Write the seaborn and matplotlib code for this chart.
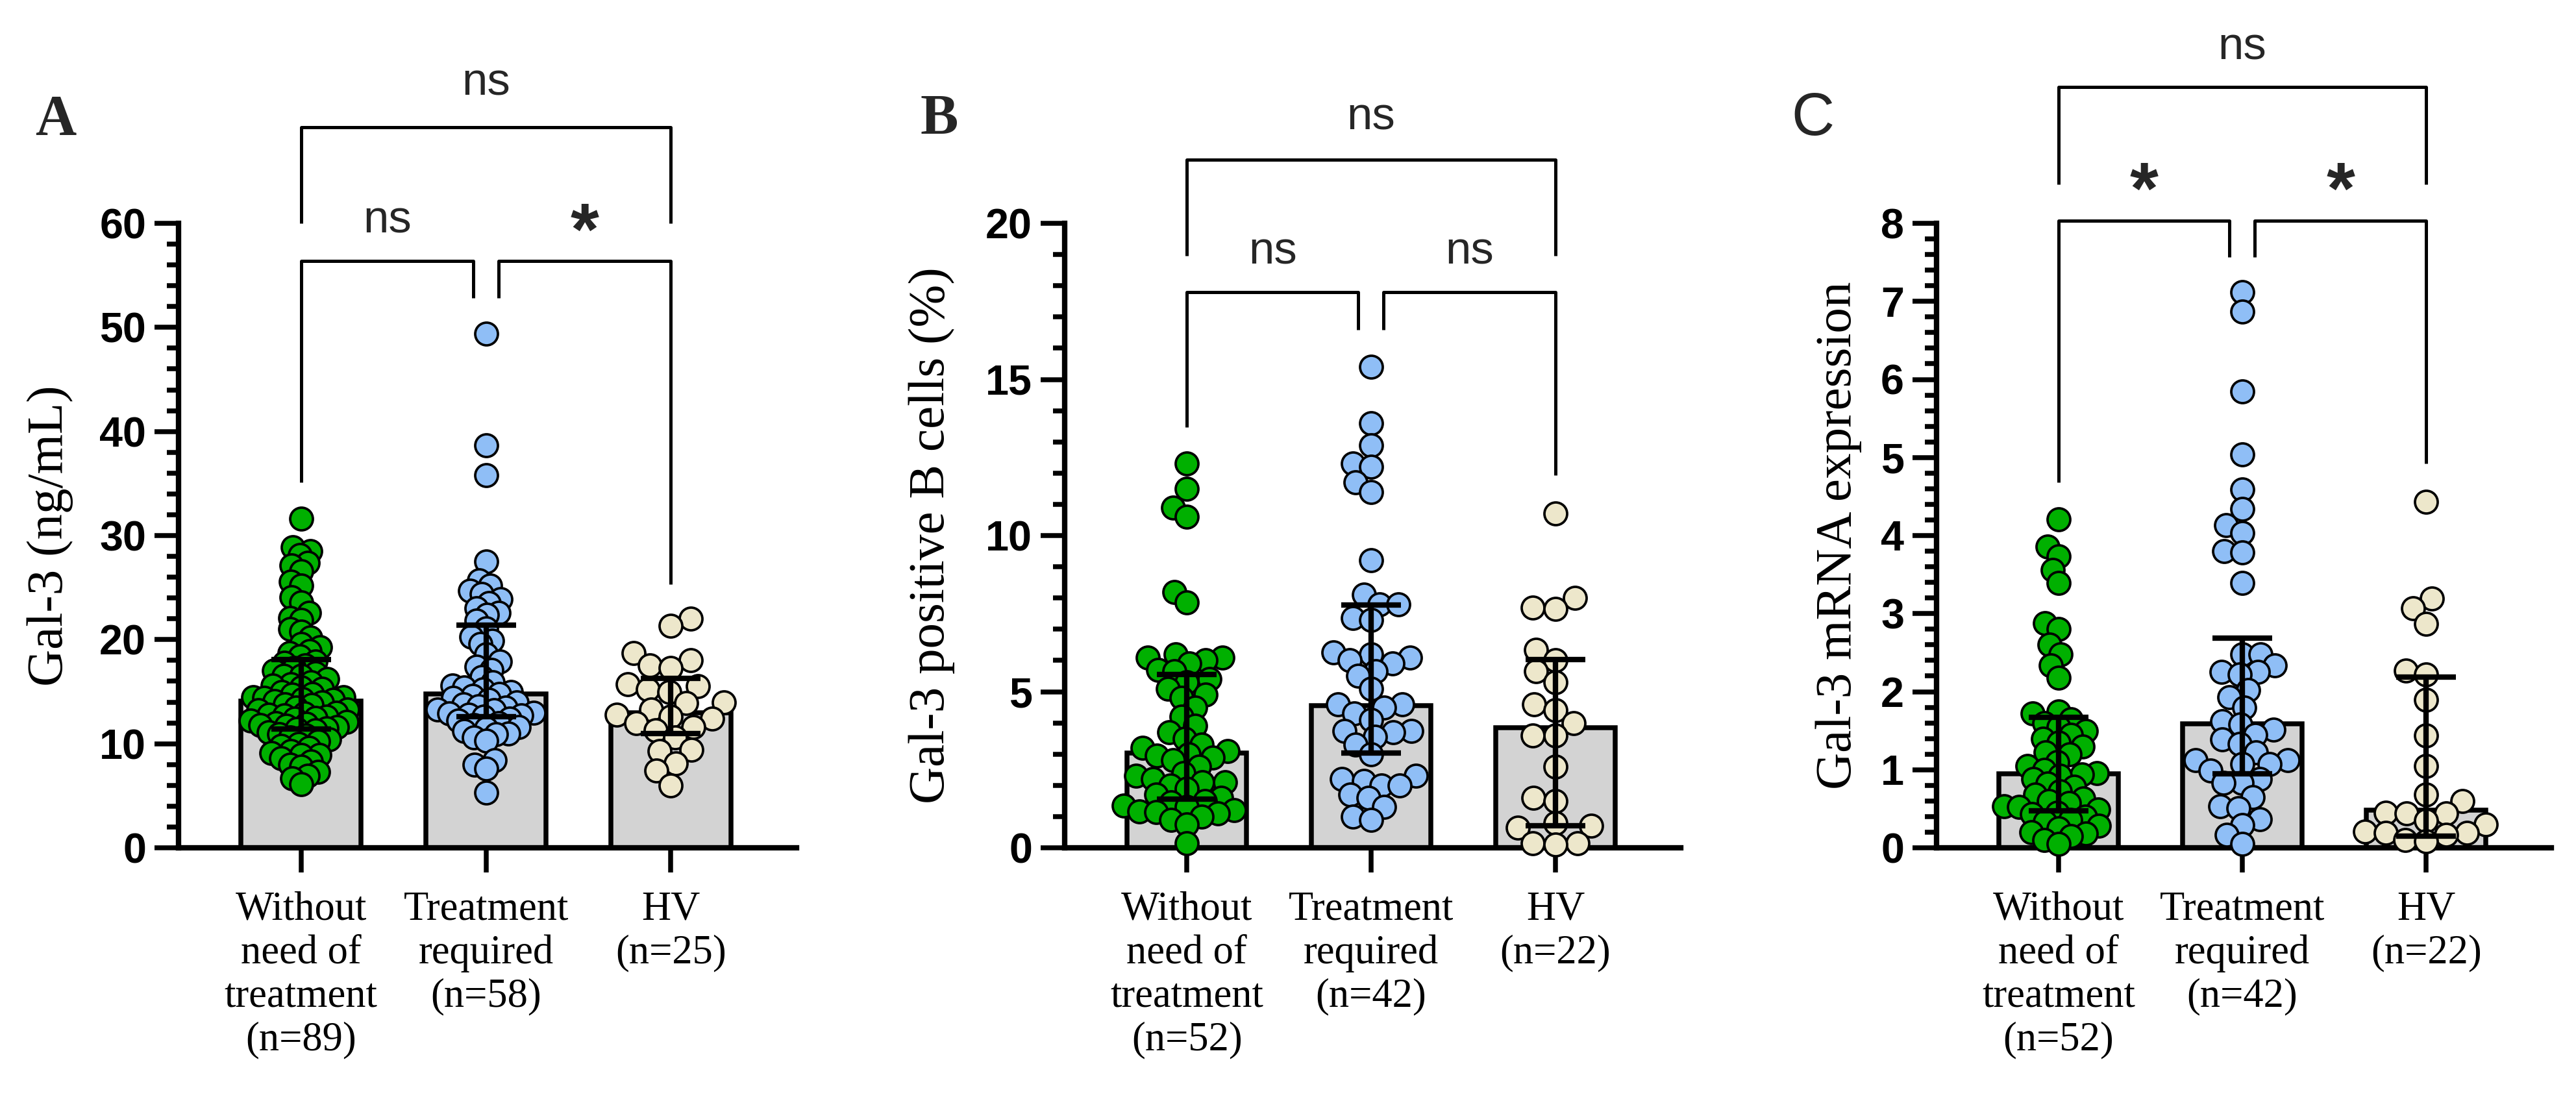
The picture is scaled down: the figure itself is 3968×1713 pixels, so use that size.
import numpy as np
import pandas as pd
import matplotlib
matplotlib.use("Agg")
import matplotlib.pyplot as plt
import seaborn as sns
from matplotlib.ticker import MultipleLocator

# ------------------------------------------------------------------ data
cats_A = ["Without\nneed of\ntreatment\n(n=89)", "Treatment\nrequired\n(n=58)", "HV\n(n=25)"]
cats_BC = ["Without\nneed of\ntreatment\n(n=52)", "Treatment\nrequired\n(n=42)", "HV\n(n=22)"]

# Panel A: Gal-3 (ng/mL)
a_no_treat = [31.6, 28.9, 28.5, 28.1, 27.4, 27.1, 26.6, 25.6, 25.2, 24.1, 23.6, 22.6, 22.1, 21.9,
              21.0, 20.8, 20.2, 19.6, 19.3, 18.9, 18.7, 18.4,
              17.9, 17.8, 17.5, 17.3, 17.0, 16.8, 16.5, 16.5, 16.2, 15.9, 15.7, 15.6, 15.4, 15.3,
              15.0, 14.8, 14.7, 14.5, 14.5, 14.4, 14.3, 14.2, 14.1,
              14.0, 13.8, 13.7, 13.5, 13.3, 13.2, 13.0, 12.9, 12.8, 12.7, 12.6, 12.5, 12.4, 12.2,
              12.1, 12.0, 11.9, 11.8, 11.7, 11.6, 11.5, 11.4,
              11.3, 11.1, 10.9, 10.8, 10.6, 10.4, 10.2, 10.0, 9.8, 9.6, 9.3, 9.1, 8.9, 8.9, 8.6,
              8.3, 8.0, 7.8, 7.3, 6.9, 6.7, 6.1]
a_treat = [49.4, 38.7, 35.8, 27.5, 25.7, 25.2, 24.7, 24.4, 23.9, 23.5, 23.0, 22.6, 22.4, 21.8,
           21.1, 20.3, 19.9, 19.6, 18.6, 17.9, 17.4, 17.1, 16.4, 15.9, 15.6, 15.4, 15.2, 15.0,
           14.8, 14.6,
           14.4, 14.2, 14.0, 13.8, 13.6, 13.5, 13.3, 13.2, 13.0, 12.9, 12.8, 12.7, 12.6,
           12.4, 12.2, 12.0, 11.8, 11.6, 11.5, 11.2, 11.0, 10.9, 10.6, 10.3, 8.4, 8.0, 7.6, 5.3]
a_hv = [22.0, 21.3, 18.7, 18.0, 17.5, 17.3, 15.7, 15.5, 15.2, 15.0, 14.0, 13.9, 13.3, 12.8,
        12.6, 12.4, 12.0, 11.6, 11.3, 10.6, 9.4, 9.3, 8.1, 7.4, 6.0]
a_median = [14.1, 14.8, 13.0]
a_q1 = [11.4, 12.6, 11.0]
a_q3 = [18.1, 21.4, 16.3]

# Panel B: Gal-3 positive B cells (%)
b_no_treat = [12.3, 11.5, 10.9, 10.6, 8.2, 7.85, 6.2, 6.1, 6.1, 6.0, 5.9, 5.7, 5.65, 5.4, 5.3,
              5.1, 4.9, 4.8, 4.5, 4.2, 3.9, 3.7, 3.5, 3.3, 3.2, 3.1, 3.0, 2.95, 2.9, 2.8, 2.6,
              2.4, 2.3, 2.2, 2.1, 2.1, 2.0, 1.9, 1.7, 1.6, 1.5, 1.45, 1.35, 1.3, 1.2, 1.16,
              1.14, 1.1, 1.0, 0.9, 0.75, 0.15]
b_treat = [15.4, 13.6, 12.9, 12.3, 12.2, 11.7, 11.4, 9.2, 8.1, 7.8, 7.8, 7.35, 7.3, 6.25, 6.2,
           6.1, 6.0, 5.9, 5.65, 5.5, 5.1, 4.6, 4.6, 4.5, 4.3, 4.1, 3.75, 3.75, 3.7, 3.55, 3.3,
           3.0, 2.3, 2.2, 2.15, 2.0, 2.0, 1.7, 1.6, 1.3, 1.0, 0.9]
b_hv = [10.7, 8.0, 7.7, 7.65, 6.35, 6.0, 5.65, 5.3, 4.6, 4.4, 4.0, 3.6, 3.6, 2.6, 1.6, 1.5,
        0.8, 0.7, 0.65, 0.15, 0.15, 0.1]
b_median = [3.03, 4.55, 3.85]
b_q1 = [1.56, 3.03, 0.70]
b_q3 = [5.55, 7.77, 6.03]

# Panel C: Gal-3 mRNA expression
c_no_treat = [4.21, 3.86, 3.73, 3.56, 3.39, 2.88, 2.8, 2.6, 2.48, 2.34, 2.18, 1.75, 1.72, 1.65,
              1.6, 1.55, 1.5, 1.45, 1.4, 1.35, 1.3, 1.22, 1.2, 1.1, 1.05, 1.0, 0.96, 0.94, 0.92,
              0.88, 0.82, 0.78, 0.72, 0.68, 0.63, 0.6, 0.57, 0.53, 0.52, 0.49, 0.45, 0.43, 0.4,
              0.36, 0.33, 0.28, 0.25, 0.2, 0.18, 0.15, 0.1, 0.05]
c_treat = [7.12, 6.87, 5.85, 5.04, 4.59, 4.34, 4.13, 4.03, 3.8, 3.78, 3.39, 2.48, 2.48, 2.34,
           2.25, 2.25, 2.22, 2.02, 1.93, 1.8, 1.62, 1.58, 1.51, 1.45, 1.39, 1.33, 1.22, 1.12,
           1.12, 1.07, 1.07, 0.99, 0.88, 0.83, 0.83, 0.65, 0.53, 0.51, 0.37, 0.29, 0.17, 0.05]
c_hv = [4.43, 3.19, 3.07, 2.87, 2.27, 2.22, 1.9, 1.44, 1.05, 0.68, 0.6, 0.45, 0.44, 0.44, 0.35,
        0.3, 0.21, 0.19, 0.19, 0.17, 0.1, 0.08]
c_median = [0.95, 1.59, 0.48]
c_q1 = [0.47, 0.95, 0.15]
c_q3 = [1.67, 2.69, 2.19]

ylabels = ["Gal-3 (ng/mL)", "Gal-3 positive B cells (%)", "Gal-3 mRNA expression"]
panel_letters = ["A", "B", "C"]
sig_top = ["ns", "ns", "ns"]
sig_left = ["ns", "ns", "*"]
sig_right = ["*", "ns", "*"]

# ------------------------------------------------------------------ style
GREEN, BLUE, BEIGE, BAR = "#00B000", "#8FBEF6", "#EDE7CB", "#D3D3D3"
COLORS = [GREEN, BLUE, BEIGE]
SERIF = ["Liberation Serif", "DejaVu Serif"]
SANS = ["Liberation Sans", "DejaVu Sans"]
MARKER = 8.4

sns.set_theme(style="ticks")
plt.rcParams["font.family"] = SANS

W, H, DPI = 3968, 1713, 300
fig = plt.figure(figsize=(W / DPI, H / DPI), dpi=DPI)
fig.patch.set_facecolor("white")

axes_px = [(275, 1227), (1640, 2589), (2983, 3930)]
TOP_PX, BOT_PX = 344, 1306

panels = [
    dict(cats=cats_A, groups=[a_no_treat, a_treat, a_hv], med=a_median, q1=a_q1, q3=a_q3,
         ymax=60, major=10, minor=2, layout=[3.0, 3.4, 6.5], ylab_x=-0.170,
         top=(69.2, 60.0), low=56.4, inner=52.8, outer=(35.1, 25.3),
         t_top=72.3, t_low=(59.1, 57.0), letter=(86, 185)),
    dict(cats=cats_BC, groups=[b_no_treat, b_treat, b_hv], med=b_median, q1=b_q1, q3=b_q3,
         ymax=20, major=5, minor=1, layout=[5.0, 5.6, 7.0], ylab_x=-0.178,
         top=(22.04, 18.97), low=17.8, inner=16.6, outer=(13.48, 11.93),
         t_top=23.0, t_low=(18.7, 18.7), letter=(1447, 184)),
    dict(cats=cats_BC, groups=[c_no_treat, c_treat, c_hv], med=c_median, q1=c_q1, q3=c_q3,
         ymax=8, major=1, minor=0.2, layout=[4.4, 5.6, 6.5], ylab_x=-0.121,
         top=(9.75, 8.50), low=8.03, inner=7.57, outer=(4.68, 4.92),
         t_top=10.1, t_low=(8.05, 8.13), letter=(2792, 184)),
]

axes = []
for i, (p, (l, r)) in enumerate(zip(panels, axes_px)):
    ax = fig.add_axes([l / W, 1 - BOT_PX / H, (r - l) / W, (BOT_PX - TOP_PX) / H])
    axes.append(ax)
    cats = p["cats"]
    med = np.array(p["med"])
    q1 = np.array(p["q1"])
    q3 = np.array(p["q3"])

    sns.barplot(x=cats, y=med, order=cats, color=BAR, saturation=1, width=0.65,
                edgecolor="black", linewidth=1.8, errorbar=None, ax=ax, zorder=1)

    df = pd.DataFrame({"group": np.repeat(cats, [len(g) for g in p["groups"]]),
                       "value": np.concatenate(p["groups"])})
    for cat, col, ls in zip(cats, COLORS, p["layout"]):
        sns.swarmplot(data=df[df["group"] == cat], x="group", y="value", order=cats,
                      color=col, size=ls, edgecolor="black", linewidth=0.9,
                      ax=ax, zorder=3, clip_on=False, warn_thresh=1.0)

    pos = np.arange(len(cats))
    ax.errorbar(pos, med, yerr=[med - q1, q3 - med], fmt="none", ecolor="black",
                elinewidth=2.0, capsize=11, capthick=2.0, zorder=5, clip_on=False)

    ax.set_xlim(-0.663, 2.68)
    ax.set_ylim(0, p["ymax"])
    ax.yaxis.set_major_locator(MultipleLocator(p["major"]))
    ax.yaxis.set_minor_locator(MultipleLocator(p["minor"]))
    sns.despine(ax=ax)
    for s in ["left", "bottom"]:
        ax.spines[s].set_linewidth(2.0)
        ax.spines[s].set_color("black")
    ax.tick_params(axis="both", which="major", direction="out", length=9, width=1.8,
                   color="black")
    ax.tick_params(axis="y", which="minor", direction="out", length=4.4, width=1.8,
                   color="black")
    ax.tick_params(axis="y", which="major", pad=3)
    ax.tick_params(axis="x", which="major", pad=7)
    ax.set_xticks(pos)
    ax.set_xticklabels(cats, fontsize=15, family=SERIF, color="black")
    for lbl in ax.get_yticklabels():
        lbl.set_fontsize(15.5)
        lbl.set_fontweight("bold")
        lbl.set_family(SANS)
        lbl.set_color("black")
    ax.set_xlabel("")
    ax.set_ylabel(ylabels[i], fontsize=19, family=SERIF, color="black")
    ax.yaxis.set_label_coords(p["ylab_x"], 0.5)

    # significance brackets
    bk = dict(color="black", lw=1.2, clip_on=False, solid_capstyle="butt", zorder=6)
    ytop, yleg = p["top"]
    ax.plot([0, 0, 2, 2], [yleg, ytop, ytop, yleg], **bk)
    ax.plot([0, 0, 0.93, 0.93], [p["outer"][0], p["low"], p["low"], p["inner"]], **bk)
    ax.plot([1.067, 1.067, 2, 2], [p["inner"], p["low"], p["low"], p["outer"][1]], **bk)

    def sig(x, y, s):
        if s == "*":
            ax.text(x, y, s, ha="center", va="baseline", fontsize=27, fontweight="bold",
                    family=SANS, clip_on=False)
        else:
            ax.text(x, y, s, ha="center", va="baseline", fontsize=17, family=SANS,
                    clip_on=False)
    sig(1.0, p["t_top"], sig_top[i])
    sig(0.465, p["t_low"][0] if sig_left[i] == "ns" else p["t_low"][1], sig_left[i])
    sig(1.533, p["t_low"][0] if sig_right[i] == "ns" else p["t_low"][1], sig_right[i])

    lx, ly = p["letter"]
    if panel_letters[i] == "C":
        fig.text(lx / W, 1 - ly / H, "C", ha="center", va="center", fontsize=22,
                 family=SANS)
    else:
        fig.text(lx / W, 1 - ly / H, panel_letters[i], ha="center", va="center",
                 fontsize=21, fontweight="bold", family=SERIF)

# compute the swarm layouts once, then freeze them and show markers at full size
fig.canvas.draw()
for ax in axes:
    for coll in ax.collections:
        if "draw" in coll.__dict__:
            del coll.draw
            coll.set_sizes([MARKER ** 2])

fig.savefig("out.png", dpi=DPI, facecolor="white")
